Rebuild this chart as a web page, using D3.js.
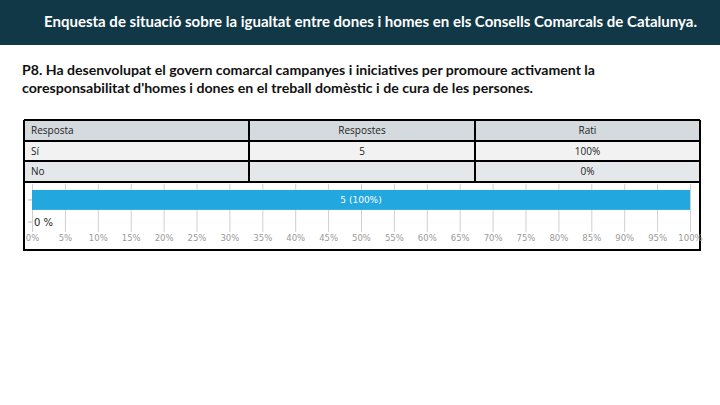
<!DOCTYPE html>
<html><head><meta charset="utf-8">
<script src="https://cdn.jsdelivr.net/npm/d3@7"></script>
<style>html,body{margin:0;padding:0;background:#fff;}svg{display:block;}</style>
</head><body>
<script>
const titleText = "Enquesta de situació sobre la igualtat entre dones i homes en els Consells Comarcals de Catalunya.";
const questionLines = ["P8. Ha desenvolupat el govern comarcal campanyes i iniciatives per promoure activament la",
  "coresponsabilitat d'homes i dones en el treball domèstic i de cura de les persones."];
const tableHeaders = ["Resposta", "Respostes", "Rati"];
const categories = ["Sí", "No"];
const counts = [5, null];
const ratios = [100, 0];
const tickValues = [0,5,10,15,20,25,30,35,40,45,50,55,60,65,70,75,80,85,90,95,100];

const W = 720, H = 405;
const svg = d3.select("body").append("svg").attr("width", W).attr("height", H);
svg.append("rect").attr("width", W).attr("height", H).attr("fill", "#fff");

// header band
svg.append("rect").attr("x",0).attr("y",0).attr("width",W).attr("height",45).attr("fill","#113846");
svg.append("text").attr("x",44).attr("y",27).attr("fill","#fff")
  .attr("font-family","Lato, 'Open Sans', sans-serif").attr("font-weight","bold").attr("font-size",15)
  .attr("textLength",653).attr("lengthAdjust","spacingAndGlyphs").text(titleText);

// question
const qWidths = [573, 511];
questionLines.forEach((l,i)=>{
  svg.append("text").attr("x",22).attr("y",75+i*18).attr("fill","#111")
    .attr("font-family","Lato, 'Open Sans', sans-serif").attr("font-weight","bold").attr("font-size",14)
    .attr("textLength",qWidths[i]).attr("lengthAdjust","spacingAndGlyphs").text(l);
});

// table
const colX = [24, 249, 475, 700];
const rowY = [120, 141, 161, 182];
const rowFill = ["#d5dade", "#f2f2f2", "#e5e8ea"];
const rows = [tableHeaders].concat(categories.map((c,i)=>[c, counts[i]==null?"":String(counts[i]), ratios[i]+"%"]));
const tg = svg.append("g");
rows.forEach((r,ri)=>{
  tg.append("rect").attr("x",colX[0]).attr("y",rowY[ri]).attr("width",colX[3]-colX[0]).attr("height",rowY[ri+1]-rowY[ri]).attr("fill",rowFill[ri]);
  r.forEach((cell,ci)=>{
    const tx = ci===0 ? colX[0]+7 : (colX[ci]+colX[ci+1])/2;
    tg.append("text").attr("x",tx).attr("y",(rowY[ri]+rowY[ri+1])/2+3.5)
      .attr("text-anchor", ci===0?"start":"middle")
      .attr("font-family","'Open Sans', sans-serif").attr("font-size",10).attr("fill","#222").text(cell);
  });
});
rowY.forEach(y=>tg.append("line").attr("x1",colX[0]).attr("x2",colX[3]).attr("y1",y).attr("y2",y).attr("stroke","#000").attr("stroke-width",2));
colX.forEach(x=>tg.append("line").attr("x1",x).attr("x2",x).attr("y1",rowY[0]).attr("y2",rowY[3]).attr("stroke","#000").attr("stroke-width",2));

// chart box
svg.append("rect").attr("x",24).attr("y",182).attr("width",676).attr("height",68).attr("fill","none").attr("stroke","#000").attr("stroke-width",2);

const x = d3.scaleLinear().domain([0,100]).range([32,690]);
const y = d3.scaleBand().domain(categories).range([190,232]).paddingInner(0.1);

const cg = svg.append("g");
cg.selectAll("line.grid").data(tickValues).enter().append("line")
  .attr("x1",d=>x(d)+0.5).attr("x2",d=>x(d)+0.5).attr("y1",184).attr("y2",232)
  .attr("stroke","#cfcfcf").attr("stroke-width",1);
const xa = cg.append("g").attr("transform","translate(0,232)")
  .call(d3.axisBottom(x).tickValues(tickValues).tickSize(0).tickPadding(3).tickFormat(d=>d+"%"));
xa.select(".domain").remove();
xa.selectAll("text").attr("fill","#9a9a9a").attr("font-family","'DejaVu Sans', sans-serif").attr("font-size",8.5);
const ya = cg.append("g").attr("transform","translate(32,0)")
  .call(d3.axisLeft(y).tickSize(4).tickFormat(""));
ya.select(".domain").remove();
ya.selectAll("line").attr("stroke","#bbb");

cg.selectAll("rect.bar").data(categories).enter().append("rect")
  .attr("x",x(0)).attr("y",d=>y(d)).attr("height",y.bandwidth())
  .attr("width",(d,i)=>x(ratios[i])-x(0)).attr("fill","#22a7df");
categories.forEach((c,i)=>{
  if (ratios[i] > 0) {
    cg.append("text").attr("x",(x(0)+x(ratios[i]))/2).attr("y",y(c)+y.bandwidth()/2+3.5)
      .attr("text-anchor","middle").attr("fill","#fff").attr("font-family","'DejaVu Sans', sans-serif").attr("font-size",9)
      .text(counts[i]+" ("+ratios[i]+"%)");
  } else {
    cg.append("text").attr("x",x(0)+2).attr("y",y(c)+y.bandwidth()/2+4)
      .attr("fill","#222").attr("font-family","'DejaVu Sans', sans-serif").attr("font-size",10)
      .text(ratios[i]+" %");
  }
});
</script>
</body></html>
